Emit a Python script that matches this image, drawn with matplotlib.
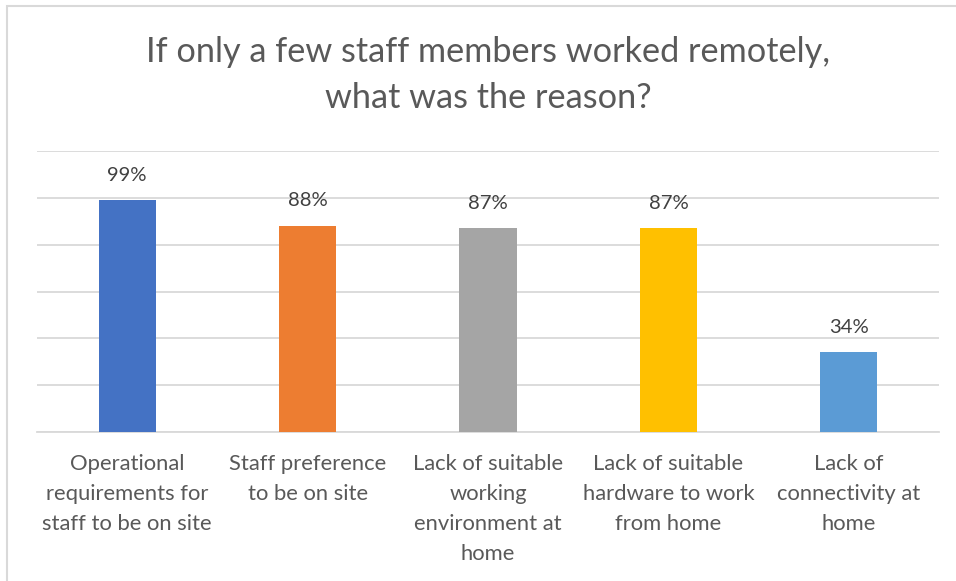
import matplotlib.pyplot as plt
from matplotlib.patches import Rectangle

categories = [
    "Operational\nrequirements for\nstaff to be on site",
    "Staff preference\nto be on site",
    "Lack of suitable\nworking\nenvironment at\nhome",
    "Lack of suitable\nhardware to work\nfrom home",
    "Lack of\nconnectivity at\nhome",
]
values = [99, 88, 87, 87, 34]
colors = ["#4472C4", "#ED7D31", "#A5A5A5", "#FFC000", "#5B9BD5"]
title = "If only a few staff members worked remotely,\nwhat was the reason?"

plt.rcParams["font.family"] = ["Lato", "DejaVu Sans"]

fig = plt.figure(figsize=(9.56, 5.81), dpi=100)
W, H = 956, 581
ax = fig.add_axes([37 / W, 1 - 432 / H, (939 - 37) / W, (432 - 151) / H])

x = list(range(len(values)))
bars = ax.bar(x, values, width=0.316, color=colors, zorder=3)
ax.set_xlim(-0.5, len(values) - 0.5)
ax.set_ylim(0, 120)
ax.set_yticks(range(0, 121, 20))
ax.yaxis.grid(True, color="#D9D9D9", linewidth=1.3, zorder=0)
ax.tick_params(axis="y", length=0, labelleft=False)
ax.set_xticks(x)
ax.set_xticklabels(categories, fontsize=15.8, color="#595959", linespacing=1.62, va="top")
ax.tick_params(axis="x", length=0, pad=16)
for s in ["top", "right", "left"]:
    ax.spines[s].set_visible(False)
ax.spines["bottom"].set_color("#D9D9D9")
ax.spines["bottom"].set_linewidth(1.3)

for b, v in zip(bars, values):
    ax.annotate(f"{v}%", (b.get_x() + b.get_width() / 2, v), xytext=(0, 12),
                textcoords="offset points", ha="center", va="bottom",
                fontsize=14.6, color="#404040")

fig.text((37 + 939) / 2 / W, 1 - 75 / H, title, ha="center", va="center",
         fontsize=24.7, color="#595959", linespacing=1.55)

fig.patches.append(Rectangle((7 / W, -0.1), 1.2, 1 - 6 / H + 0.1, transform=fig.transFigure,
                             fill=False, edgecolor="#D9D9D9", linewidth=1.5))

fig.savefig("out.png", dpi=100, facecolor="white")
